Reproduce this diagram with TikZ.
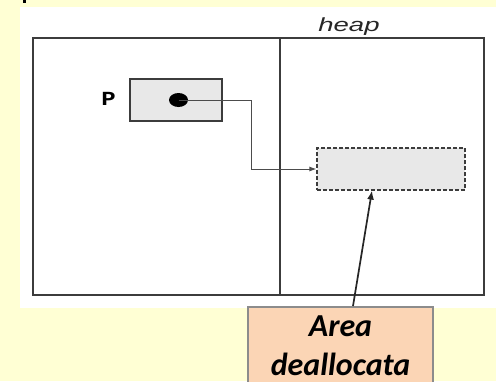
\documentclass[tikz,border=0pt]{standalone}
\usepackage{fontspec}
\setmainfont{Carlito}
\newfontfamily\heapfont{Liberation Sans}
\newfontfamily\codefont{Liberation Mono}
\usetikzlibrary{calc,arrows.meta,shapes.geometric}
\definecolor{slidebg}{HTML}{FFFFD4}
\definecolor{boxgray}{HTML}{E8E8E8}
\definecolor{areafill}{HTML}{FBD5B5}
\definecolor{areaborder}{HTML}{8C8C8C}
\definecolor{framecol}{HTML}{3C3C3C}
\tikzset{
  frameline/.style={draw=framecol, line width=1.5pt},
  ptrbox/.style={draw=framecol, line width=1.2pt, fill=boxgray, minimum width=92pt, minimum height=42pt, inner sep=0pt},
  freedbox/.style={draw=framecol, line width=1.1pt, dash pattern=on 4pt off 2pt, fill=boxgray, minimum width=148pt, minimum height=42pt, inner sep=0pt},
  areabox/.style={draw=areaborder, line width=2pt, fill=areafill, minimum width=185pt, minimum height=78pt, inner sep=0pt, align=center, font=\fontsize{32}{39}\selectfont\bfseries\itshape},
  ptrline/.style={draw=black!70, line width=1pt, -{Latex[length=7pt,width=5pt]}},
  notearrow/.style={draw=black!85, line width=1.7pt, -{Latex[length=9pt,width=7pt]}},
}
\begin{document}
\begin{tikzpicture}[x=1pt,y=-1pt]
\clip (0,0) rectangle (496,381);
\useasboundingbox (0,0) rectangle (496,381);
\fill[slidebg] (0,0) rectangle (496,381);
\fill[black] (22.5,0) rectangle (26,2.5);
\fill[white] (19.5,7) rectangle (496,308);
% frame
\draw[frameline] (33,38) rectangle (484,295);
\coordinate (divtop) at (280,38);
\coordinate (divbot) at (280,296);
\draw[frameline] (divtop) -- (divbot);
\node[font=\heapfont\itshape\fontsize{19}{22}\selectfont, xscale=1.45, transform shape, text=black!85] (heap) at (349,27) {heap};
% pointer
\node[ptrbox] (pbox) at (176,100) {};
\node[font=\codefont\bfseries\fontsize{20}{22}\selectfont, xscale=1.2, transform shape, inner sep=0pt] (plabel) at (108.5,99) {P};
\node[ellipse, fill=black, minimum width=19pt, minimum height=14pt, inner sep=0pt] (dot) at (178.5,100) {};
\node[freedbox] (freed) at (391,169) {};
\coordinate (bend) at (251,100);
\draw[ptrline] (dot.center) -- (bend) |- (freed.west);
% note
\node[areabox, anchor=north] (area) at (340.5,306) {Area\\deallocata};
\draw[notearrow] ($(area.north)+(12.5,0)$) -- ($(freed.south)+(-19,0)$);
\end{tikzpicture}
\end{document}
